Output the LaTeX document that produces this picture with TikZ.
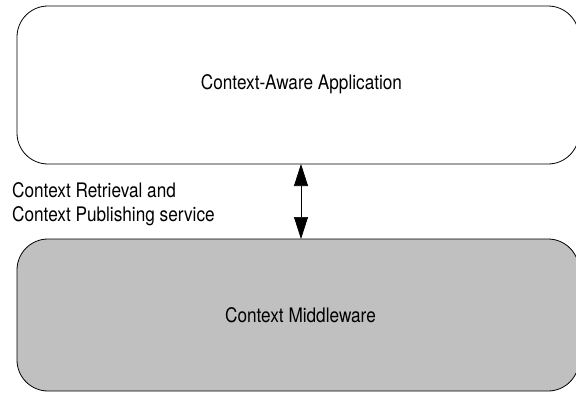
\documentclass[tikz,border=0pt]{standalone}
\usepackage{fontspec}
\setmainfont{TeX Gyre Heros}[FakeStretch=0.86]
\usetikzlibrary{arrows.meta}
\definecolor{midgray}{HTML}{C0C0C0}
\begin{document}
\begin{tikzpicture}[x=1pt,y=1pt,
  box/.style={draw=black, line width=0.8pt, rounded corners=31pt},
  lbl/.style={font=\fontsize{20}{24}\selectfont, inner sep=0pt},
  twoway/.style={line width=0.7pt, {Triangle[length=22pt,width=14pt]}-{Triangle[length=22pt,width=14pt]}}]
\useasboundingbox (0,0) rectangle (576,392);
\draw[box, fill=white] (17,228) rectangle (579,386);
\node[lbl, anchor=base] (app) at (301.5,302) {Context-Aware Application};
\draw[box, fill=midgray] (17,1) rectangle (579,153);
\node[lbl, anchor=base] (mw) at (300.5,70) {Context Middleware};
\coordinate (top) at (301,228);
\coordinate (bot) at (301,153);
\draw[twoway] (top) -- (bot);
\node[lbl, anchor=base west] (svc) at (12,195) {Context Retrieval and};
\node[lbl, anchor=base west] (svc2) at (12,171) {Context Publishing service};
\end{tikzpicture}
\end{document}
